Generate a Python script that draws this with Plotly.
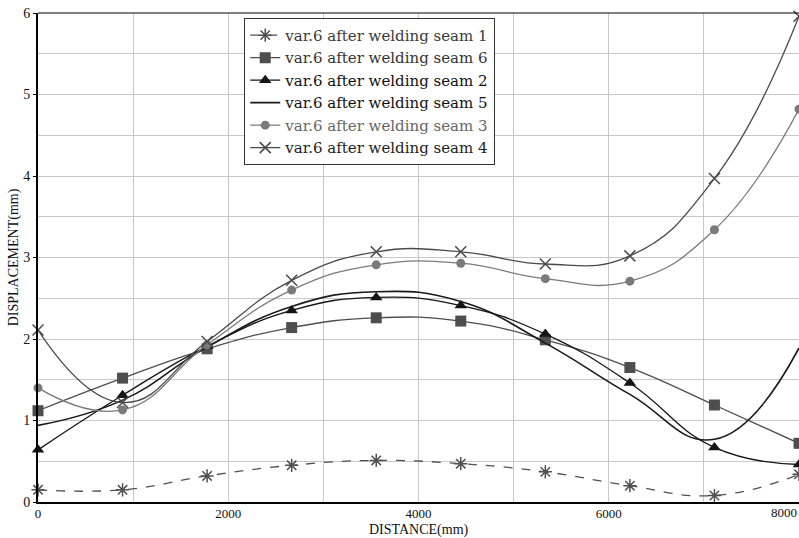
import plotly.graph_objects as go

distance = [0, 888.9, 1777.8, 2666.7, 3555.6, 4444.4, 5333.3, 6222.2, 7111.1, 8000]

seam1 = [0.15, 0.15, 0.32, 0.45, 0.51, 0.47, 0.37, 0.20, 0.08, 0.34]
seam6 = [1.12, 1.52, 1.88, 2.14, 2.26, 2.22, 1.99, 1.65, 1.19, 0.72]
seam2 = [0.64, 1.31, 1.91, 2.35, 2.51, 2.41, 2.06, 1.46, 0.67, 0.46]
seam5 = [0.94, 1.25, 1.90, 2.40, 2.58, 2.46, 1.95, 1.32, 0.77, 1.89]
seam3 = [1.40, 1.13, 1.93, 2.60, 2.91, 2.93, 2.74, 2.71, 3.34, 4.82]
seam4 = [2.11, 1.22, 1.97, 2.72, 3.07, 3.07, 2.92, 3.02, 3.97, 5.96]

names = ["var.6 after welding seam 1", "var.6 after welding seam 6",
         "var.6 after welding seam 2", "var.6 after welding seam 5",
         "var.6 after welding seam 3", "var.6 after welding seam 4"]
x_ticks = [0, 2000, 4000, 6000, 8000]
y_ticks = [0, 1, 2, 3, 4, 5, 6]

SERIF = "'Liberation Serif', 'DejaVu Serif', 'Times New Roman', Times, serif"
LEG = "'DejaVu Serif', 'DejaVu Sans', serif"

fig = go.Figure()

def add(y, name, color, dash, symbol, size, mode="lines+markers", lw=1.3, mlw=1.5, tcolor="#1a1a1a"):
    fig.add_trace(go.Scatter(
        x=distance, y=y, name=f"<span style='color:{tcolor}'>{name}</span>", mode=mode,
        line=dict(color=color, width=lw, dash=dash, shape="spline", smoothing=1.3),
        marker=dict(symbol=symbol, size=size, color=color,
                    line=dict(color=color, width=mlw)),
        cliponaxis=False,
    ))

add(seam1, names[0], "#505050", "dash", "asterisk-open", 11, tcolor="#3a3a3a")
add(seam6, names[1], "#4e4e4e", "solid", "square", 11, mlw=0, tcolor="#333333")
add(seam2, names[2], "#151515", "solid", "triangle-up", 11, mlw=0, tcolor="#111111")
add(seam5, names[3], "#1a1a1a", "solid", "circle", 1, mode="lines", lw=1.6, tcolor="#111111")
add(seam3, names[4], "#7a7a7a", "solid", "circle", 9, mlw=0, tcolor="#666666")
add(seam4, names[5], "#4a4a4a", "solid", "x-thin-open", 11, tcolor="#222222")

fig.update_layout(
    width=799, height=538,
    margin=dict(l=38, r=0, t=13, b=36),
    paper_bgcolor="white", plot_bgcolor="white",
    font=dict(family=SERIF, size=14, color="#111111"),
    showlegend=True,
    legend=dict(
        x=0.271, y=0.99, xanchor="left", yanchor="top",
        bgcolor="white", bordercolor="#333333", borderwidth=1,
        font=dict(family=LEG, size=15, color="#222222"),
        itemwidth=30, tracegroupgap=0,
    ),
    xaxis=dict(
        range=[0, 8000], tickvals=x_ticks[:-1],
        showgrid=True, gridcolor="#c8c8c8", gridwidth=1,
        minor=dict(dtick=1000, tick0=0, showgrid=True, gridcolor="#c8c8c8", gridwidth=1),
        showline=True, linecolor="black", linewidth=2,
        ticks="", zeroline=False,
        ticklabelstandoff=-2,
        tickfont=dict(family=SERIF, size=13),
    ),
    yaxis=dict(
        range=[0, 6], tickvals=y_ticks,
        showgrid=True, gridcolor="#c8c8c8", gridwidth=1,
        minor=dict(dtick=0.5, tick0=0, showgrid=True, gridcolor="#c8c8c8", gridwidth=1),
        showline=True, linecolor="black", linewidth=2,
        ticks="outside", ticklen=3, tickcolor="black", zeroline=False,
        title=dict(text="DISPLACEMENT(mm)", standoff=1, font=dict(family=SERIF, size=14)),
        tickfont=dict(family=SERIF, size=14),
    ),
    shapes=[dict(type="line", xref="paper", yref="paper", x0=0, x1=1, y0=1, y1=1,
                 line=dict(color="black", width=1))],
    annotations=[
        dict(text=str(x_ticks[-1]), x=x_ticks[-1], y=0, xref="x", yref="y",
             xanchor="right", yanchor="top", yshift=-1, showarrow=False,
             font=dict(family=SERIF, size=13, color="#111111")),
        dict(text="DISTANCE(mm)", x=0.5, y=-36 / 489, xref="paper", yref="paper",
             xanchor="center", yanchor="bottom", yshift=-1, borderpad=0, showarrow=False,
             font=dict(family=SERIF, size=14, color="#111111")),
    ],
)

fig.write_html("out.html")
